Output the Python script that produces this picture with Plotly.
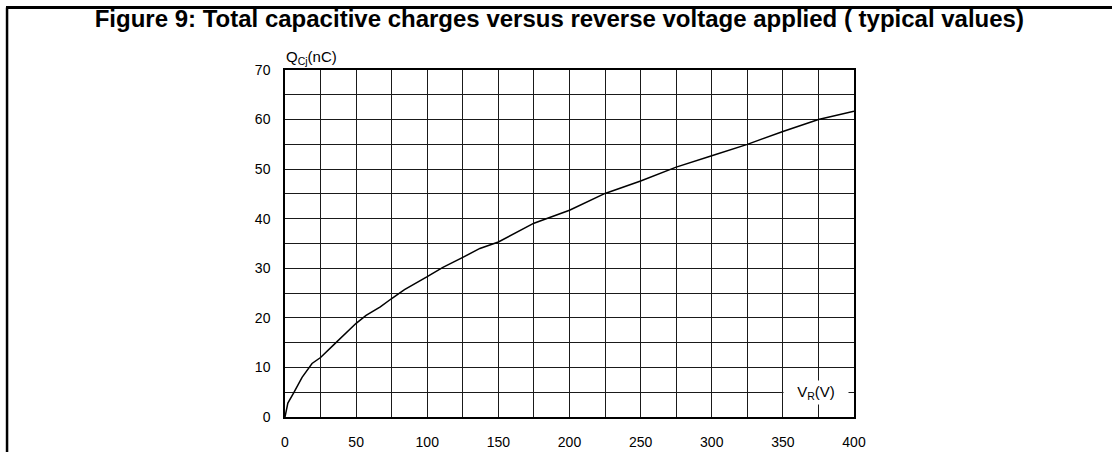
import plotly.graph_objects as go

# Data
vr = [0, 2, 6, 12, 19, 25, 34, 50, 57, 67, 75, 84, 100, 111, 125, 137, 150,
      175, 200, 225, 250, 275, 300, 325, 350, 375, 400]
qcj = [0, 2.8, 4.8, 8.0, 10.8, 12.0, 14.5, 18.9, 20.5, 22.2, 23.9, 25.7, 28.3,
       30.2, 32.2, 34.0, 35.3, 39.1, 41.7, 45.1, 47.6, 50.4, 52.7, 55.0, 57.6,
       60.0, 61.7]
x_ticks = [0, 50, 100, 150, 200, 250, 300, 350, 400]
y_ticks = [0, 10, 20, 30, 40, 50, 60, 70]

title = "Figure 9: Total capacitive charges versus reverse voltage applied ( typical values)"
FONT = "Liberation Sans, Arial, sans-serif"

fig = go.Figure()
fig.add_trace(go.Scatter(x=vr, y=qcj, mode="lines",
                         line=dict(color="black", width=1.5), hoverinfo="skip"))

grid_col = "#1a1a1a"
fig.update_xaxes(range=[0, 400], tickvals=x_ticks, showgrid=True, gridcolor=grid_col,
                 gridwidth=1, minor=dict(dtick=25, showgrid=True, gridcolor=grid_col, gridwidth=1),
                 showline=True, mirror=True, linecolor="black", linewidth=1.5,
                 zeroline=False, ticks="", ticklabelstandoff=11, automargin=False,
                 tickfont=dict(family=FONT, size=14, color="black"))
fig.update_yaxes(range=[0, 70], tickvals=y_ticks, showgrid=True, gridcolor=grid_col,
                 gridwidth=1, minor=dict(dtick=5, showgrid=True, gridcolor=grid_col, gridwidth=1),
                 showline=True, mirror=True, linecolor="black", linewidth=1.5,
                 zeroline=False, ticks="", ticklabelstandoff=10, automargin=False,
                 tickfont=dict(family=FONT, size=14, color="black"))

fig.add_annotation(x=373, y=5, xref="x", yref="y", text="V<sub>R</sub>(V)",
                   showarrow=False, bgcolor="white", width=58, height=17, borderpad=3,
                   font=dict(family=FONT, size=15, color="black"))
fig.add_annotation(x=0, y=1, xref="paper", yref="paper", text="Q<sub>Cj</sub>(nC)",
                   showarrow=False, xanchor="left", yanchor="bottom", yshift=1, xshift=-1,
                   font=dict(family=FONT, size=15, color="black"))

# page frame lines (top and left), drawn in pixel terms relative to the plot area
fig.add_shape(type="line", xref="paper", yref="paper", ysizemode="pixel", yanchor=1,
              x0=-0.4903, x1=1.46, y0=62.5, y1=62.5, line=dict(color="black", width=3))
fig.add_shape(type="line", xref="paper", yref="paper", ysizemode="pixel", yanchor=1,
              x0=-0.4885, x1=-0.4885, y0=62.5, y1=-400, line=dict(color="black", width=2.5))

fig.update_layout(
    width=1112, height=452,
    margin=dict(l=285, r=258, t=69.5, b=35, autoexpand=False),
    paper_bgcolor="white", plot_bgcolor="white",
    showlegend=False,
    title=dict(text="<b>" + title + "</b>", x=0.503, xanchor="center",
               y=1 - 18.5 / 452, yanchor="middle", yref="container",
               font=dict(family=FONT, size=24, color="black")),
)

fig.write_html(
    "out.html", config={"displayModeBar": False},
    post_script=("document.body.style.margin='0px';"
                 "document.documentElement.style.overflow='hidden';"
                 "document.body.style.overflow='hidden';"
                 "window.scrollTo(0,0);"))
